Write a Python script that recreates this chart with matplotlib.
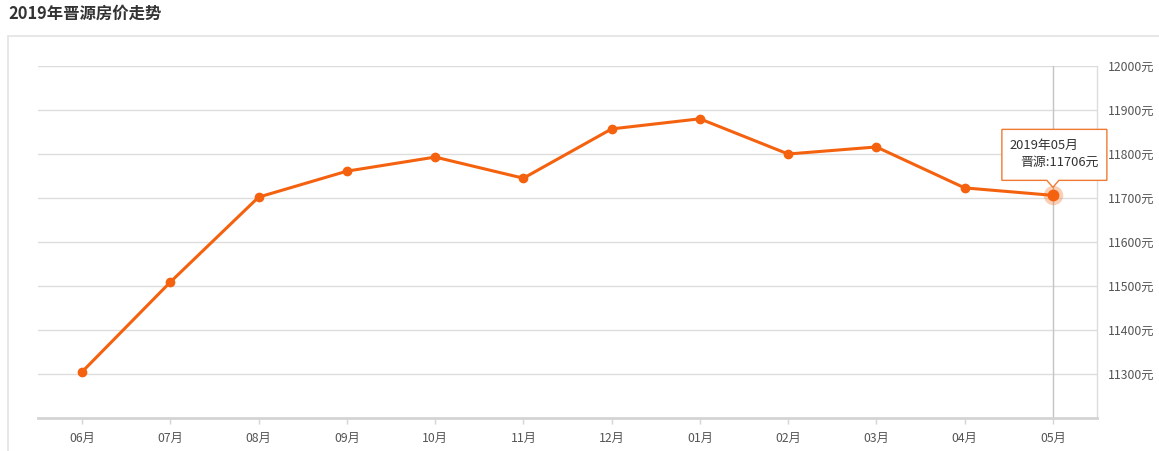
import matplotlib.pyplot as plt
import matplotlib.transforms as mtransforms
from matplotlib.patches import Polygon, Rectangle

plt.rcParams['font.family'] = ['Noto Sans CJK SC', 'DejaVu Sans']

# data
months = ['06月', '07月', '08月', '09月', '10月', '11月', '12月', '01月', '02月', '03月', '04月', '05月']
prices = [11305, 11509, 11702, 11761, 11793, 11745, 11857, 11880, 11800, 11816, 11723, 11706]
yticks = [11300, 11400, 11500, 11600, 11700, 11800, 11900, 12000]
title = '2019年晋源房价走势'
tip_title = '2019年05月'
tip_label = '晋源:11706元'

orange = '#f5620f'
W, H = 1159, 451

fig = plt.figure(figsize=(W / 100, H / 100), dpi=100)
fig.patch.set_facecolor('white')

# outer panel border + title
fig.patches.append(Rectangle((8 / W, -0.01), 1.0, 1 - 36 / H + 0.01, transform=fig.transFigure,
                             fill=False, edgecolor='#e3e3e3', lw=1.2))
fig.text(8 / W, 1 - 14 / H, title, fontsize=11.8, fontweight='bold', color='#333333',
         ha='left', va='center')

ax = fig.add_axes([38 / W, 1 - 418 / H, (1097 - 38) / W, (418 - 66) / H])
x = list(range(len(months)))

ax.set_xlim(-0.5, len(months) - 0.5)
ax.set_ylim(11200, 12000)

for v in yticks:
    ax.axhline(v, color='#dddddd', lw=1, zorder=1)

ax.plot(x, prices, color=orange, lw=2.2, marker='o', markersize=6, zorder=3, solid_capstyle='round')

# highlighted last point + crosshair
ax.axvline(x[-1], color='#c4c4c4', lw=1, zorder=2)
ax.plot(x[-1], prices[-1], 'o', color=orange, markersize=14, alpha=0.3, zorder=4, mec='none')
ax.plot(x[-1], prices[-1], 'o', color=orange, markersize=8.5, zorder=5, mec='none')

for s in ['top', 'left']:
    ax.spines[s].set_visible(False)
ax.spines['right'].set_color('#dddddd')
ax.spines['right'].set_linewidth(1)
ax.spines['bottom'].set_color('#d4d4d4')
ax.spines['bottom'].set_linewidth(2)

ax.set_xticks(x)
ax.set_xticklabels(months)
ax.set_yticks(yticks)
ax.set_yticklabels([f'{v}元' for v in yticks])
ax.yaxis.tick_right()
ax.tick_params(axis='y', length=0, pad=8, labelsize=8.8, labelcolor='#555555')
ax.tick_params(axis='x', length=4, width=1, color='#d4d4d4', pad=6, labelsize=8.8, labelcolor='#555555')
for lbl in ax.get_yticklabels():
    lbl.set_horizontalalignment('left')

# tooltip (pixel offsets from the highlighted point)
tr = mtransforms.Affine2D() + mtransforms.ScaledTranslation(x[-1], prices[-1], ax.transData)
box = [(-51, 15), (-6, 15), (0, 8), (6, 15), (54, 15), (54, 66), (-51, 66)]
ax.add_patch(Polygon(box, closed=True, transform=tr, facecolor='white', edgecolor='#f07a34',
                     lw=1, zorder=6, clip_on=False))
ax.text(-43, 50, tip_title, transform=tr, fontsize=9.3, color='#333333', ha='left', va='center',
        zorder=7, clip_on=False)
ax.text(-33, 33, tip_label, transform=tr, fontsize=9.3, color='#333333', ha='left', va='center',
        zorder=7, clip_on=False)

fig.savefig('out.png', dpi=100, facecolor='white')
